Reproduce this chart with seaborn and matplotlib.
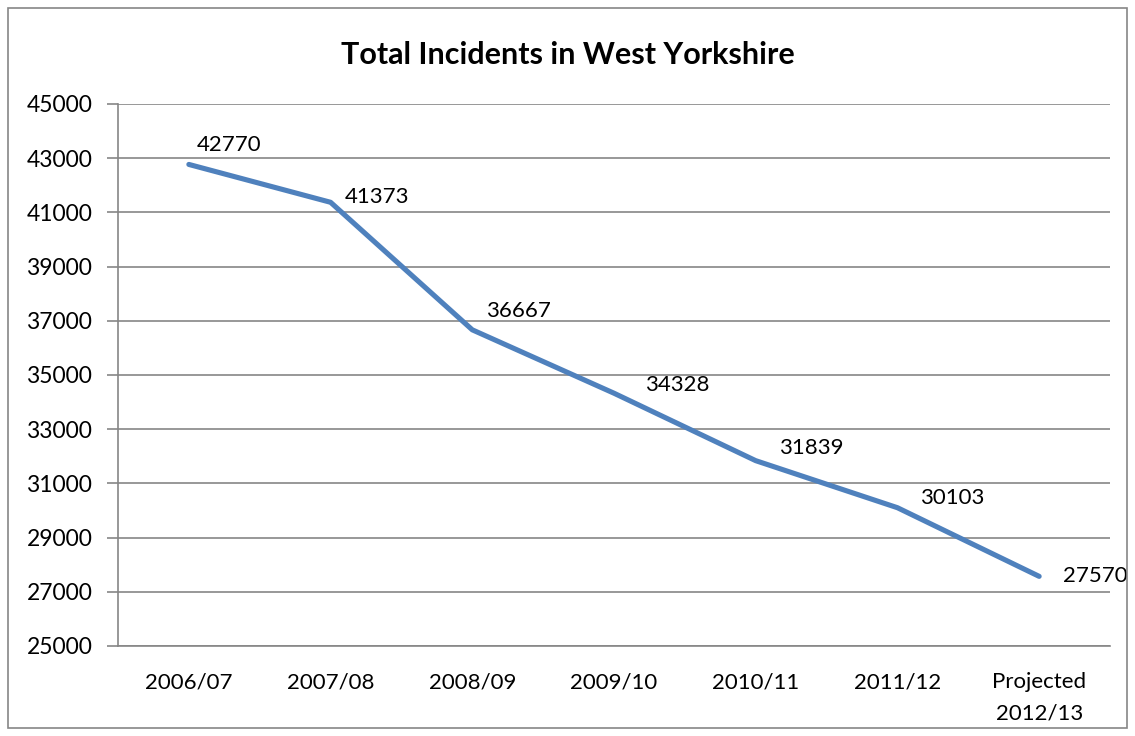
import matplotlib
matplotlib.use("Agg")
import matplotlib.pyplot as plt
import seaborn as sns
import pandas as pd
from matplotlib.patches import Rectangle

categories = ["2006/07", "2007/08", "2008/09", "2009/10", "2010/11", "2011/12", "Projected\n2012/13"]
incidents = [42770, 41373, 36667, 34328, 31839, 30103, 27570]
y_ticks = [25000, 27000, 29000, 31000, 33000, 35000, 37000, 39000, 41000, 43000, 45000]
title = "Total Incidents in West Yorkshire"

# label offsets in pixels (style only)
label_dx = [8, 14, 14, 31, 23, 23, 24]
label_dy = [19, 5, 19, 8, 13, 10, 0]

sns.set_theme(style="white")
plt.rcParams["font.family"] = ["Lato", "DejaVu Sans"]

W, H = 1135, 736
fig = plt.figure(figsize=(W / 100, H / 100), dpi=100)
ax = fig.add_axes([118 / W, (H - 646) / H, (1110 - 118) / W, (646 - 104) / H])

df = pd.DataFrame({"cat": categories, "val": incidents})
df["pos"] = range(len(categories))
sns.lineplot(data=df, x="pos", y="val", ax=ax, color="#4F81BD", linewidth=3.7,
             solid_capstyle="round", solid_joinstyle="round", zorder=3)

ax.set_xlim(-0.5, len(categories) - 0.5)
ax.set_ylim(y_ticks[0], y_ticks[-1])
ax.set_yticks(y_ticks)
ax.set_yticklabels([str(t) for t in y_ticks], fontsize=16.5, color="black")
ax.set_xticks(range(len(categories)))
ax.set_xticklabels(categories, fontsize=16, color="black", linespacing=1.7)
ax.set_xticks([i - 0.5 for i in range(len(categories) + 1)], minor=True)
ax.tick_params(axis="x", which="major", length=0, pad=19)
ax.tick_params(axis="x", which="minor", length=8, width=1.2, color="#868686", direction="out")
ax.tick_params(axis="y", which="major", length=8, width=1.2, color="#868686", direction="out", pad=10.5, left=True)
ax.set_xlabel("")
ax.set_ylabel("")

ax.grid(axis="y", color="#868686", linewidth=1.2)
ax.grid(axis="x", visible=False)
for s in ["top", "right"]:
    ax.spines[s].set_visible(False)
for s in ["left", "bottom"]:
    ax.spines[s].set_color("#868686")
    ax.spines[s].set_linewidth(1.2)

for i, v in enumerate(incidents):
    ax.annotate(str(v), xy=(i, v), xytext=(label_dx[i], label_dy[i]),
                textcoords="offset pixels", ha="left", va="center",
                fontsize=16, color="black")

fig.text(0.5, (H - 55) / H, title, ha="center", va="center",
         fontsize=22, fontweight="bold", color="black")

fig.patches.append(Rectangle((8 / W, 8 / H), (1127 - 8) / W, (728 - 8) / H,
                             transform=fig.transFigure, fill=False,
                             edgecolor="#868686", linewidth=1.2))

fig.savefig("out.png", dpi=100)
